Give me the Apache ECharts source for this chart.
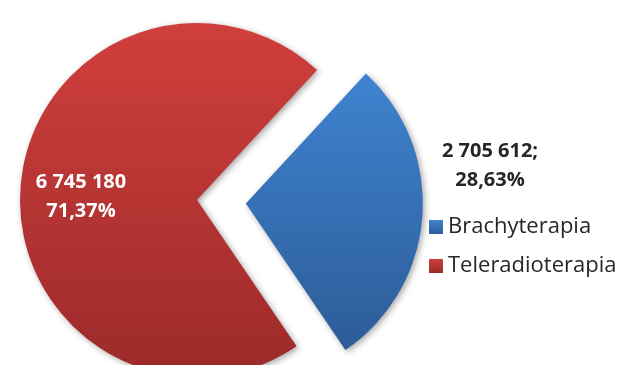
<!DOCTYPE html>
<html>
<head>
<meta charset="utf-8">
<script src="https://cdn.jsdelivr.net/npm/echarts@6/dist/echarts.min.js"></script>
<style>
html,body{margin:0;padding:0;background:#fff;}
#chart{width:626px;height:365px;}
</style>
</head>
<body>
<div id="chart"></div>
<script>
var categories = ['Brachyterapia', 'Teleradioterapia'];
var values = [2705612, 6745180];
var topColors = ['#3F83D0', '#D03F3C'];
var bottomColors = ['#2C5C98', '#9C2A2A'];
var explodedIndex = 0;

function fmtNum(v) {
  return String(v).replace(/\B(?=(\d{3})+(?!\d))/g, ' ');
}
function fmtPct(p) {
  return p.toFixed(2).replace('.', ',') + '%';
}
function grad(i) {
  return new echarts.graphic.LinearGradient(0, 0, 0, 1, [
    { offset: 0, color: topColors[i] },
    { offset: 1, color: bottomColors[i] }
  ]);
}

var startAngle = 47.3;
var baseCenter = [197, 200];
var radius = 177;
var offset = 49;

// mid angle of exploded slice
var total = values.reduce(function (a, b) { return a + b; }, 0);
var before = 0;
for (var k = 0; k < explodedIndex; k++) before += values[k];
var midDeg = startAngle - (before + values[explodedIndex] / 2) / total * 360;
var midRad = midDeg * Math.PI / 180;
var explodedCenter = [baseCenter[0] + offset * Math.cos(midRad), baseCenter[1] - offset * Math.sin(midRad)];

var labelPos = [[490, 166], [81, 197]];
var labelColors = ['#262626', '#ffffff'];
var labelSep = [';\n', '\n'];

function makeSeries(showIndexFn, center) {
  return {
    type: 'pie',
    center: center,
    radius: radius,
    startAngle: startAngle,
    silent: true,
    avoidLabelOverlap: false,
    label: {
      show: true,
      position: 'inside',
      fontFamily: 'Open Sans',
      fontWeight: 'bold',
      fontSize: 20,
      lineHeight: 29,
      align: 'center'
    },
    labelLine: { show: false },
    labelLayout: function (p) {
      var pos = labelPos[p.dataIndex];
      return { x: pos[0], y: pos[1], align: 'center', verticalAlign: 'middle' };
    },
    emphasis: { disabled: true },
    data: categories.map(function (c, i) {
      var vis = showIndexFn(i);
      return {
        name: c,
        value: values[i],
        itemStyle: vis ? {
          color: grad(i),
          shadowBlur: 6,
          shadowColor: 'rgba(0,0,0,0.35)',
          shadowOffsetX: 2,
          shadowOffsetY: 2
        } : { color: 'rgba(0,0,0,0)' },
        label: vis ? {
          color: labelColors[i],
          formatter: function (p) { return fmtNum(p.value) + labelSep[i] + fmtPct(p.percent); }
        } : { show: false }
      };
    })
  };
}

var chart = echarts.init(document.getElementById('chart'), null, { renderer: 'canvas' });
chart.setOption({
  animation: false,
  backgroundColor: '#ffffff',
  legend: {
    orient: 'vertical',
    left: 424,
    top: 211,
    itemWidth: 14,
    itemHeight: 14,
    itemGap: 17,
    icon: 'rect',
    textStyle: {
      fontFamily: 'Open Sans',
      fontSize: 22,
      color: '#262626',
      padding: [0, 0, 0, 0]
    },
    data: categories.map(function (c, i) {
      return { name: c, itemStyle: { color: grad(i) } };
    })
  },
  series: [
    makeSeries(function (i) { return i !== explodedIndex; }, baseCenter),
    makeSeries(function (i) { return i === explodedIndex; }, explodedCenter)
  ]
});
</script>
</body>
</html>
